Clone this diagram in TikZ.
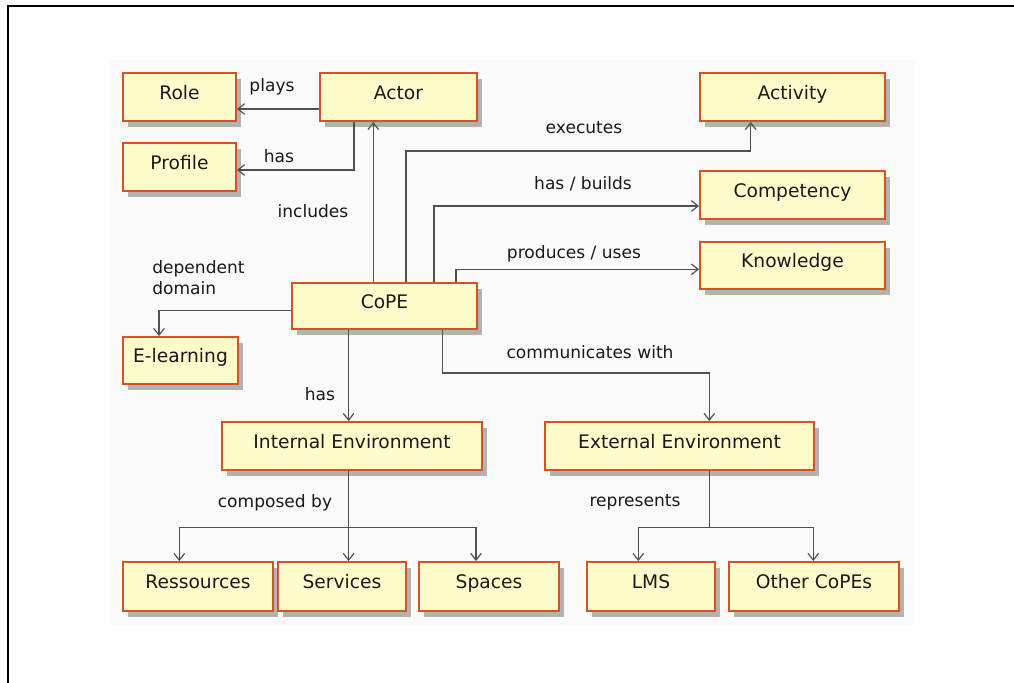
\documentclass[tikz,border=0pt]{standalone}
\usepackage{fontspec}
\newfontfamily\diagfont{DejaVu Sans}
\usetikzlibrary{arrows.meta,shadows}
\definecolor{boxfill}{RGB}{255,252,204}
\definecolor{boxline}{RGB}{214,82,36}
\definecolor{linkgray}{RGB}{80,80,80}
\definecolor{panel}{RGB}{250,250,250}
\tikzset{
  entity/.style={draw=boxline, line width=1.5pt, fill=boxfill, inner sep=0pt,
    font=\diagfont\fontsize{14pt}{17pt}\selectfont, text=black!90,
    text height=0.75em, text depth=0.45em,
    drop shadow={shadow xshift=3.75pt, shadow yshift=-4.5pt, fill=black!30, opacity=1}},
  link/.style={draw=linkgray, line width=1.1pt, -{Straight Barb[length=5pt,width=8pt,line width=0.9pt]}},
  plain/.style={draw=linkgray, line width=1.1pt},
  tag/.style={font=\diagfont\fontsize{12.8pt}{16.2pt}\selectfont, text=black!90, inner sep=0pt}
}
\begin{document}
\begin{tikzpicture}[x=0.75pt, y=-0.75pt]
\useasboundingbox (0,0) rectangle (1014,682);
% frame and panel
\fill[white] (0,0) rectangle (1014,682);
\fill[panel] (110,60) rectangle (915,625);
\draw[line width=1.9pt] (8,690) -- (8,6) -- (1020,6);

% entities
\node[entity, minimum width=113*0.75pt, minimum height=48*0.75pt] (role) at (179.5,97) {Role};
\node[entity, minimum width=113*0.75pt, minimum height=48*0.75pt] (profile) at (179.5,167) {Profile};
\node[entity, minimum width=157*0.75pt, minimum height=48*0.75pt] (actor) at (398.5,97) {Actor};
\node[entity, minimum width=185*0.75pt, minimum height=48*0.75pt] (activity) at (792.5,97) {Activity};
\node[entity, minimum width=185*0.75pt, minimum height=48*0.75pt] (competency) at (792.5,195) {Competency};
\node[entity, minimum width=185*0.75pt, minimum height=47*0.75pt] (knowledge) at (792.5,265.5) {Knowledge};
\node[entity, minimum width=185*0.75pt, minimum height=46*0.75pt] (cope) at (384.5,306) {CoPE};
\node[entity, minimum width=115*0.75pt, minimum height=47*0.75pt] (elearning) at (180.5,360.5) {E-learning};
\node[entity, minimum width=260*0.75pt, minimum height=48*0.75pt] (internal) at (352,446) {Internal Environment};
\node[entity, minimum width=269*0.75pt, minimum height=48*0.75pt] (external) at (679.5,446) {External Environment};
\node[entity, minimum width=150*0.75pt, minimum height=49*0.75pt] (ressources) at (198,586.5) {Ressources};
\node[entity, minimum width=128*0.75pt, minimum height=49*0.75pt] (services) at (342,586.5) {Services};
\node[entity, minimum width=140*0.75pt, minimum height=49*0.75pt] (spaces) at (489,586.5) {Spaces};
\node[entity, minimum width=128*0.75pt, minimum height=49*0.75pt] (lms) at (651,586.5) {LMS};
\node[entity, minimum width=170*0.75pt, minimum height=49*0.75pt] (othercopes) at (814,586.5) {Other CoPEs};

% routing lanes
\coordinate (yPlay) at (0,109);
\coordinate (yProf) at (0,170);
\coordinate (yExe) at (0,151);
\coordinate (yHB) at (0,206);
\coordinate (yPU) at (0,269.3);
\coordinate (yEL) at (0,310.7);
\coordinate (yCom) at (0,373);
\coordinate (yComp) at (0,527.3);
\coordinate (xProf) at (354,0);
\coordinate (xInc) at (373.3,0);
\coordinate (xExe) at (406,0);
\coordinate (xHB) at (434,0);
\coordinate (xPU) at (456,0);
\coordinate (xAct) at (750.7,0);
\coordinate (xEL) at (159,0);
\coordinate (xHas) at (348.6,0);
\coordinate (xCom) at (442.3,0);
\coordinate (xExt) at (709.3,0);
\coordinate (xRes) at (179.3,0);
\coordinate (xSpa) at (476,0);
\coordinate (xLMS) at (638.3,0);
\coordinate (xOth) at (813.3,0);

% connectors
\draw[link] (actor.west |- yPlay) -- (role.east |- yPlay);
\draw[link] (actor.south -| xProf) |- (profile.east |- yProf);
\draw[link] (cope.north -| xInc) -- (actor.south -| xInc);
\draw[link] (cope.north -| xExe) |- (yExe -| xAct) -- (activity.south -| xAct);
\draw[link] (cope.north -| xHB) |- (competency.west |- yHB);
\draw[link] (cope.north -| xPU) |- (knowledge.west |- yPU);
\draw[link] (cope.west |- yEL) -| (elearning.north -| xEL);
\draw[link] (cope.south -| xHas) -- (internal.north -| xHas);
\draw[link] (cope.south -| xCom) |- (yCom -| xExt) -- (external.north -| xExt);
\draw[link] (internal.south -| xHas) -- (services.north -| xHas);
\draw[link] (internal.south -| xHas) |- (yComp -| xRes) -- (ressources.north -| xRes);
\draw[link] (internal.south -| xHas) |- (yComp -| xSpa) -- (spaces.north -| xSpa);
\draw[link] (external.south -| xExt) |- (yComp -| xLMS) -- (lms.north -| xLMS);
\draw[link] (external.south -| xExt) |- (yComp -| xOth) -- (othercopes.north -| xOth);

% connector labels
\node[tag] (lplays) at (272,87) {plays};
\node[tag] (lhas1) at (279,156) {has};
\node[tag] (lincl) at (313,211) {includes};
\node[tag] (lexe) at (584,128) {executes};
\node[tag] (lhb) at (583,184) {has / builds};
\node[tag] (lpu) at (574,254) {produces / uses};
\node[tag, anchor=west, align=left] (ldep) at (152,277.5) {dependent\\domain};
\node[tag] (lhas2) at (320,394) {has};
\node[tag] (lcom) at (590,352) {communicates with};
\node[tag] (lcomp) at (275,502.7) {composed by};
\node[tag] (lrep) at (635,502.7) {represents};
\end{tikzpicture}
\end{document}
